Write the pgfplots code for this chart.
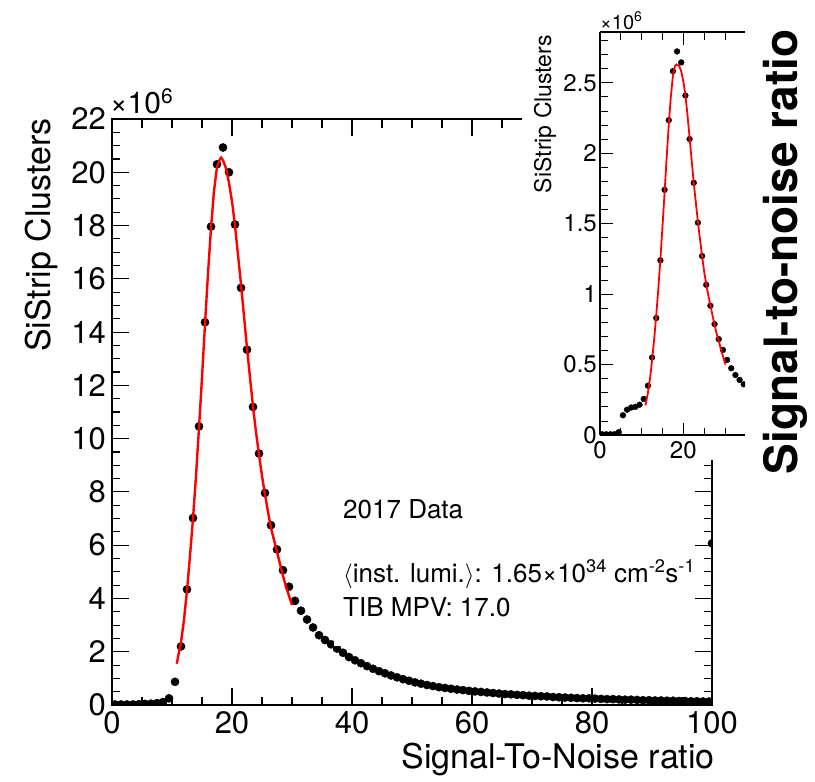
\documentclass[border=0pt]{standalone}
\usepackage{pgfplots}
\pgfplotsset{compat=1.18}
\usepackage{fontspec}
\setmainfont{TeX Gyre Heros}
\begin{document}
\begin{tikzpicture}
\path[use as bounding box] (0pt,0pt) rectangle (815pt,-782pt);
% ---------------- main axis ----------------
\begin{axis}[
  at={(112pt,-705pt)}, anchor=south west,
  scale only axis, width=600pt, height=586pt,
  xmin=0, xmax=100, ymin=0, ymax=22,
  xtick={0,20,...,100}, ytick={0,2,...,22},
  minor x tick num=3, minor y tick num=3,
  tick align=inside,
  major tick length=17pt, minor tick length=8.5pt,
  every tick/.style={black, line width=1.1pt},
  axis line style={line width=1.5pt},
  /pgf/number format/assume math mode=true,
  scaled y ticks=false,
  ticklabel style={font=\fontsize{31}{31}\selectfont, inner sep=0pt},
  yticklabel style={xshift=-6pt},
  xticklabel style={yshift=-6pt},
  clip marker paths=true,
]
\addplot[only marks, mark=*, mark size=4.1pt, black] coordinates {
(0.5,0.02)(1.5,0.02)(2.5,0.02)(3.5,0.02)(4.5,0.03)(5.5,0.04)(6.5,0.05)(7.5,0.07)(8.5,0.11)(9.5,0.25)
(10.5,0.87)(11.5,2.2)(12.5,4.34)(13.5,7.02)(14.5,10.46)(15.5,14.37)(16.5,17.96)(17.5,20.3)(18.5,20.93)(19.5,20.0)
(20.5,18.04)(21.5,15.66)(22.5,13.34)(23.5,11.19)(24.5,9.44)(25.5,7.96)(26.5,6.75)(27.5,5.84)(28.5,5.06)(29.5,4.44)
(30.5,3.91)(31.5,3.54)(32.5,3.21)(33.5,2.91)(34.5,2.62)(35.5,2.44)(36.5,2.28)(37.5,2.12)(38.5,1.96)(39.5,1.80)
(40.5,1.68)(41.5,1.57)(42.5,1.46)(43.5,1.36)(44.5,1.27)(45.5,1.19)(46.5,1.11)(47.5,1.04)(48.5,0.97)(49.5,0.91)
(50.5,0.85)(51.5,0.80)(52.5,0.75)(53.5,0.71)(54.5,0.67)(55.5,0.64)(56.5,0.61)(57.5,0.58)(58.5,0.56)(59.5,0.53)
(60.5,0.51)(61.5,0.49)(62.5,0.47)(63.5,0.45)(64.5,0.43)(65.5,0.41)(66.5,0.40)(67.5,0.38)(68.5,0.37)(69.5,0.35)
(70.5,0.34)(71.5,0.33)(72.5,0.32)(73.5,0.30)(74.5,0.29)(75.5,0.28)(76.5,0.27)(77.5,0.26)(78.5,0.25)(79.5,0.25)
(80.5,0.24)(81.5,0.23)(82.5,0.22)(83.5,0.22)(84.5,0.21)(85.5,0.20)(86.5,0.20)(87.5,0.19)(88.5,0.18)(89.5,0.18)
(90.5,0.17)(91.5,0.17)(92.5,0.16)(93.5,0.16)(94.5,0.15)(95.5,0.15)(96.5,0.14)(97.5,0.14)(98.5,0.13)(99.5,0.13)
(100,6.07)
};
\addplot[red, line width=2.4pt, no marks] coordinates {
(10.8,1.55)(11.0,1.8)(11.5,2.35)(12.0,3.2)(12.5,4.3)(13.0,5.6)(13.5,7.0)(14.0,8.6)(14.5,10.4)(15.0,12.3)
(15.5,14.3)(16.0,16.2)(16.5,17.9)(17.0,19.3)(17.5,20.2)(18.0,20.5)(18.2,20.55)(18.5,20.45)(19.0,20.15)(19.5,19.6)
(20.0,18.9)(20.5,18.0)(21.0,16.9)(21.5,15.8)(22.0,14.6)(22.5,13.4)(23.0,12.3)(23.5,11.2)(24.0,10.25)(24.5,9.4)
(25.0,8.6)(25.5,7.9)(26.0,7.25)(26.5,6.65)(27.0,6.2)(27.5,5.75)(28.0,5.3)(28.5,4.85)(29.0,4.45)(29.5,4.1)(30.0,3.75)
};
\end{axis}
% white text box and annotations
\fill[white] (334pt,-482pt) rectangle (522pt,-646pt);
\begingroup\fontsize{26}{26}\selectfont
\node[anchor=base west, inner sep=0pt] at (343pt,-518pt) {2017 Data};
\node[anchor=base west, inner sep=0pt] at (343pt,-582pt) {$\langle$inst. lumi.$\rangle$: 1.65×10\textsuperscript{34} cm\textsuperscript{-2}s\textsuperscript{-1}};
\node[anchor=base west, inner sep=0pt] at (343pt,-616pt) {TIB MPV: 17.0};
\endgroup
\node[anchor=base west, inner sep=0pt, font=\fontsize{30}{30}\selectfont] at (110pt,-113pt) {×10\textsuperscript{6}};
\node[anchor=base east, inner sep=0pt, font=\fontsize{34}{34}\selectfont] at (715pt,-768pt) {Signal-To-Noise ratio};
\node[rotate=90, anchor=north east, inner sep=0pt, font=\fontsize{34}{34}\selectfont] at (25pt,-118pt) {SiStrip Clusters};
% opaque background of the inset panel
\fill[white] (522pt,0pt) rectangle (752pt,-460pt);
% ---------------- inset ----------------
\begin{axis}[
  at={(600pt,-435pt)}, anchor=south west,
  scale only axis, width=145pt, height=403pt,
  xmin=0, xmax=34.8, ymin=0, ymax=2.86,
  axis x line*=box, axis y line*=left,
  xtick pos=both, ytick pos=left,
  xtick={0,20}, minor xtick={5,10,15,25,30},
  ytick={0,0.5,1,1.5,2,2.5}, yticklabels={0,0.5,1,1.5,2,2.5},
  minor ytick={0.1,0.2,0.3,0.4,0.6,0.7,0.8,0.9,1.1,1.2,1.3,1.4,1.6,1.7,1.8,1.9,2.1,2.2,2.3,2.4,2.6,2.7,2.8},
  tick align=inside,
  major tick length=12.5pt, minor tick length=7.5pt,
  every tick/.style={black, line width=0.8pt},
  axis line style={line width=1.1pt},
  /pgf/number format/assume math mode=true,
  scaled y ticks=false,
  ticklabel style={font=\fontsize{24}{24}\selectfont, inner sep=0pt},
  yticklabel style={xshift=-3pt},
  xticklabel style={yshift=-6pt},
  clip marker paths=true,
]
\addplot[only marks, mark=*, mark size=2.9pt, black] coordinates {
(0.5,0.005)(1.5,0.005)(2.5,0.005)(3.5,0.006)(4.5,0.02)(5.5,0.14)(6.5,0.18)(7.5,0.195)(8.5,0.20)(9.5,0.215)
(10.5,0.256)(11.5,0.35)(12.5,0.55)(13.5,0.83)(14.5,1.24)(15.5,1.74)(16.5,2.234)(17.5,2.582)(18.5,2.722)(19.5,2.644)
(20.5,2.409)(21.5,2.10)(22.5,1.79)(23.5,1.507)(24.5,1.27)(25.5,1.066)(26.5,0.917)(27.5,0.787)(28.5,0.68)(29.5,0.604)
(30.5,0.533)(31.5,0.474)(32.5,0.426)(33.5,0.391)(34.5,0.36)
};
\addplot[red, line width=1.8pt, no marks] coordinates {
(10.9,0.21)(11.5,0.30)(12.0,0.40)(12.5,0.53)(13.0,0.68)(13.5,0.85)(14.0,1.04)(14.5,1.25)(15.0,1.48)(15.5,1.72)
(16.0,1.97)(16.5,2.2)(17.0,2.40)(17.5,2.55)(18.0,2.62)(18.4,2.63)(19.0,2.62)(19.5,2.58)(20.0,2.51)(20.5,2.41)
(21.0,2.27)(21.5,2.11)(22.0,1.95)(22.5,1.79)(23.0,1.65)(23.5,1.51)(24.0,1.39)(24.5,1.27)(25.0,1.16)(25.5,1.07)
(26.0,0.99)(26.5,0.92)(27.0,0.85)(27.5,0.78)(28.0,0.72)(28.5,0.67)(29.0,0.61)(29.5,0.56)(30.1,0.50)
};
\end{axis}
\node[anchor=base west, inner sep=0pt, font=\fontsize{20}{20}\selectfont] at (600pt,-29pt) {×10\textsuperscript{6}};
\node[rotate=90, anchor=center, inner sep=0pt, font=\fontsize{23}{23}\selectfont] at (545pt,-114pt) {SiStrip Clusters};
\node[rotate=90, anchor=center, inner sep=0pt, font=\fontsize{46}{46}\selectfont\bfseries] at (785pt,-252pt) {Signal-to-noise ratio};
\end{tikzpicture}
\end{document}
